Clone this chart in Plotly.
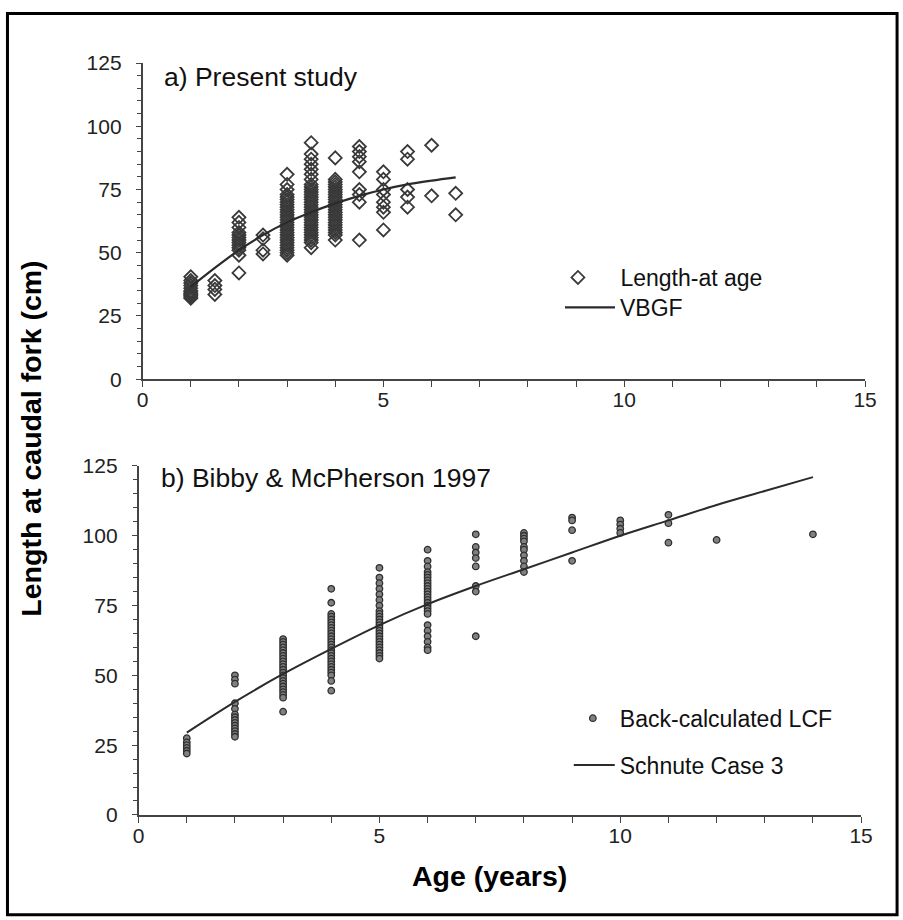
import plotly.graph_objects as go

# ---------------- data: a) Present study ----------------
present_ages = [1, 1.5, 2, 2.5, 3, 3.5, 4, 4.5, 5, 5.5, 6, 6.5]
present_lengths = [
    [40.5, 39, 38, 37, 36, 35, 34.5, 34, 33.5, 33, 32.5, 32],
    [39, 37, 35.5, 33.5],
    [64, 62, 60, 58, 57, 56, 55, 54, 53, 52, 51, 49, 42],
    [57, 55.5, 51, 49.5],
    [81, 77, 75, 73, 72, 71, 70, 69, 68, 67, 66, 65, 64, 63, 62, 61, 60, 59,
     58, 57, 56, 55, 54, 53, 52, 51, 50, 49],
    [93.5, 89, 87, 85, 83, 81, 79, 77, 76, 75, 74, 73, 72, 71, 70, 69, 68, 67,
     66, 65, 64, 63, 62, 61, 60, 59, 58, 57, 56, 55, 54, 52],
    [87.5, 79, 78, 77, 76, 75, 74, 73, 72, 71, 70, 69, 68, 67, 66, 65, 64, 63,
     62, 61, 60, 59, 58, 57, 55],
    [92, 90, 88, 86, 82, 75, 73, 70, 55],
    [82, 79, 75, 73, 70, 68, 66, 59],
    [90, 87, 75, 72, 68],
    [92.5, 72.5],
    [73.5, 65],
]
vbgf_ages = [1, 1.5, 2, 2.5, 3, 3.5, 4, 4.5, 5, 5.5, 6, 6.5]
vbgf_lengths = [36.5, 44, 51, 57, 62, 66, 69.5, 72.5, 75, 77, 78.5, 79.8]

# ---------------- data: b) Bibby & McPherson 1997 ----------------
bibby_ages = [1, 2, 3, 4, 5, 6, 7, 8, 9, 10, 11, 12, 14]
bibby_lengths = [
    [27.5, 26, 25, 24, 23, 22],
    [50, 48.5, 47, 40, 38, 36, 35, 34, 33, 32, 31, 30, 29, 28],
    [63, 62, 61, 60, 59, 58, 57, 56, 55, 54, 53, 52, 51, 50, 49, 48, 47, 46,
     45, 44, 43, 42, 37],
    [81, 76, 72, 71, 70, 69, 68, 67, 66, 65, 64, 63, 62, 61, 60, 59, 58, 57,
     56, 55, 54, 53, 52, 51, 50, 48, 44.5],
    [88.5, 85, 83, 81, 79, 77, 75, 73, 72, 71, 70, 69, 68, 67, 66, 65, 64, 63,
     62, 61, 60, 59, 58, 57, 56],
    [95, 91, 89, 87, 86, 85, 84, 83, 82, 81, 80, 79, 78, 77, 76, 75, 74, 73,
     72, 68, 66, 64, 62, 60, 59],
    [100.5, 96, 94, 92, 89, 82, 80, 64],
    [101, 100, 99, 98, 96, 95, 93, 91, 89, 87],
    [106.5, 105.5, 102, 91],
    [105.5, 104, 102.5, 101],
    [107.5, 104.5, 97.5],
    [98.5],
    [100.5],
]
schnute_ages = [1, 2, 3, 4, 5, 6, 7, 8, 9, 10, 11, 12, 13, 14]
schnute_lengths = [29.5, 40.5, 50.5, 59.5, 68, 75.5, 82, 88, 94, 100, 105.5, 111, 116, 121]

y_ticks = [0, 25, 50, 75, 100, 125]
x_ticks = [0, 5, 10, 15]


def flatten(ages, groups):
    xs, ys = [], []
    for a, g in zip(ages, groups):
        for v in g:
            xs.append(a)
            ys.append(v)
    return xs, ys


pa_x, pa_y = flatten(present_ages, present_lengths)
bb_x, bb_y = flatten(bibby_ages, bibby_lengths)

# calibration of page coordinates -> photographed coordinates
SX, OX = 0.981, 6.3
SY, OY = 0.978, 9.8
W, H = 914, 930
FONT = "Liberation Sans, Arial, sans-serif"


def gx(p):
    return (p - OX) / SX


def gy(p):
    return (p - OY) / SY


def px(p):
    return gx(p) / W


def py(p):
    return 1 - gy(p) / H


fig = go.Figure()

fig.add_trace(go.Scatter(
    x=pa_x, y=pa_y, mode="markers", name="Length-at age",
    marker=dict(symbol="diamond-open", size=10, color="#3a3a3a",
                line=dict(width=1.8, color="#3a3a3a")),
    xaxis="x", yaxis="y", legend="legend"))
fig.add_trace(go.Scatter(
    x=vbgf_ages, y=vbgf_lengths, mode="lines", name="VBGF",
    line=dict(color="#2b2b2b", width=2.2, shape="spline"),
    xaxis="x", yaxis="y", legend="legend2"))
fig.add_trace(go.Scatter(
    x=bb_x, y=bb_y, mode="markers", name="Back-calculated LCF",
    marker=dict(symbol="circle", size=6.5, color="#808080",
                line=dict(width=1.3, color="#2e2e2e")),
    xaxis="x2", yaxis="y2", legend="legend3"))
fig.add_trace(go.Scatter(
    x=schnute_ages, y=schnute_lengths, mode="lines", name="Schnute Case 3",
    line=dict(color="#2b2b2b", width=2.0, shape="spline"),
    xaxis="x2", yaxis="y2", legend="legend4"))


def xax(domain, anchor):
    return dict(domain=domain, anchor=anchor, range=[0, 15],
                tickmode="array", tickvals=x_ticks,
                ticks="outside", ticklen=6, tickwidth=1.3, tickcolor="#444",
                minor=dict(dtick=1, ticks="outside", ticklen=6, tickwidth=1.3,
                           tickcolor="#444"),
                showline=True, linecolor="#444", linewidth=1.5,
                showgrid=False, zeroline=False, ticklabelstandoff=-5,
                tickfont=dict(family=FONT, size=21, color="#222"))


def yax(domain, anchor):
    return dict(domain=domain, anchor=anchor, range=[0, 125],
                tickmode="array", tickvals=y_ticks,
                ticks="outside", ticklen=5, tickwidth=1.3, tickcolor="#444",
                minor=dict(dtick=5, ticks="outside", ticklen=4, tickwidth=1.2,
                           tickcolor="#444"),
                showline=True, linecolor="#444", linewidth=1.5,
                showgrid=False, zeroline=False, ticklabelstandoff=10,
                tickfont=dict(family=FONT, size=21, color="#222"))


TEXT_X = gx(620)  # page x where every legend label starts


def leg(iw, yc):
    return dict(xanchor="left", yanchor="middle", bgcolor="rgba(0,0,0,0)",
                borderwidth=0, font=dict(family=FONT, size=23, color="#111"),
                itemwidth=iw, x=(TEXT_X - iw - 10.5) / W, y=py(yc))


fig.update_layout(
    width=W, height=H,
    margin=dict(l=0, r=0, t=0, b=0),
    paper_bgcolor="white", plot_bgcolor="white",
    showlegend=True,
    xaxis=xax([px(143), px(866)], "y"),
    yaxis=yax([py(378), py(61)], "x"),
    xaxis2=xax([px(139), px(862)], "y2"),
    yaxis2=yax([py(815), py(465)], "x2"),
    legend=leg(75, 276),
    legend2=leg(50, 306),
    legend3=leg(44, 718),
    legend4=leg(41, 765),
    annotations=[
        dict(text="a) Present study", x=px(162), y=py(75), xref="paper", yref="paper",
             xanchor="left", yanchor="middle", showarrow=False,
             font=dict(family=FONT, size=26.5, color="#111")),
        dict(text="b) Bibby &amp; McPherson 1997", x=px(159), y=py(477),
             xref="paper", yref="paper", xanchor="left", yanchor="middle",
             showarrow=False, font=dict(family=FONT, size=26.5, color="#111")),
        dict(text="<b>Length at caudal fork (cm)</b>", x=px(31), y=py(438),
             xref="paper", yref="paper", xanchor="center", yanchor="middle",
             textangle=-90, showarrow=False,
             font=dict(family=FONT, size=28.5, color="#000")),
        dict(text="<b>Age (years)</b>", x=px(490), y=py(876),
             xref="paper", yref="paper", xanchor="center", yanchor="middle",
             showarrow=False, font=dict(family=FONT, size=28.5, color="#000")),
    ],
    shapes=[
        dict(type="rect", xref="paper", yref="paper",
             x0=1.5 / W, x1=gx(898) / W, y0=1 - gy(915) / H, y1=1 - 1.5 / H,
             line=dict(color="black", width=3), fillcolor="rgba(0,0,0,0)"),
    ],
)

fig.write_html(
    "out.html",
    config={"displayModeBar": False},
    post_script="document.body.style.margin='0';document.body.style.padding='0';"
                "document.body.style.overflow='hidden';"
                "document.documentElement.style.overflow='hidden';",
)
